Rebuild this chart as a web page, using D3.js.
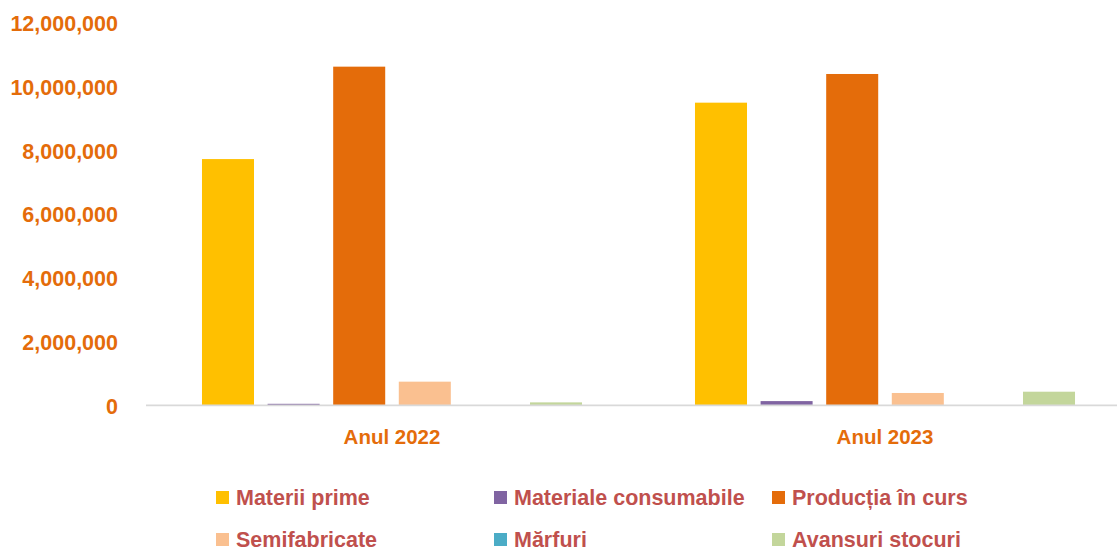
<!DOCTYPE html>
<html>
<head>
<meta charset="utf-8">
<script src="https://cdn.jsdelivr.net/npm/d3@7"></script>
<style>
  body { margin: 0; background: #fff; }
  svg { display: block; }
</style>
</head>
<body>
<svg id="chart" width="1117" height="548"></svg>
<script>
// data
var categories = ["Anul 2022", "Anul 2023"];
var series = ["Materii prime", "Materiale consumabile", "Producția în curs",
              "Semifabricate", "Mărfuri", "Avansuri stocuri"];
var values2022 = [7730000, 50000, 10630000, 745000, 0, 95000];
var values2023 = [9500000, 135000, 10400000, 390000, 0, 430000];
var yTicks = [0, 2000000, 4000000, 6000000, 8000000, 10000000, 12000000];
var colors = ["#FFC000", "#8064A2", "#E46C0A", "#FAC090", "#4BACC6", "#C3D69B"];

var allValues = [values2022, values2023];

var svg = d3.select("#chart");

var y = d3.scaleLinear().domain([0, 12000000]).range([405.4, 23]);

var x0 = d3.scaleBand().domain(categories).range([145.5, 1131.5]);
var x1 = d3.scaleBand().domain(series).range([0, x0.bandwidth()])
    .paddingInner(0.207).paddingOuter(0.861);

// y axis labels
var yAxis = d3.axisLeft(y).tickValues(yTicks).tickSize(0).tickPadding(0)
    .tickFormat(d3.format(","));
var gy = svg.append("g")
    .attr("transform", "translate(118,0)")
    .call(yAxis);
gy.select(".domain").remove();
gy.selectAll("text")
    .attr("fill", "#E46C0A")
    .attr("font-family", "Liberation Sans, Arial, sans-serif")
    .attr("font-weight", "bold")
    .attr("font-size", 21.5)
    .attr("dy", "0.36em");

// bars
var groups = svg.append("g").selectAll("g")
    .data(categories)
    .enter().append("g")
    .attr("transform", function(d) { return "translate(" + x0(d) + ",0)"; });

groups.selectAll("rect")
    .data(function(d, i) {
        return series.map(function(s, j) { return { key: s, value: allValues[i][j], color: colors[j] }; });
    })
    .enter().append("rect")
    .attr("x", function(d) { return x1(d.key); })
    .attr("width", x1.bandwidth())
    .attr("y", function(d) { return y(d.value); })
    .attr("height", function(d) { return y(0) - y(d.value); })
    .attr("fill", function(d) { return d.color; });

// baseline
svg.append("line")
    .attr("x1", 146).attr("x2", 1117)
    .attr("y1", y(0)).attr("y2", y(0))
    .attr("stroke", "#D9D9D9")
    .attr("stroke-width", 1.8);

// category labels
var xAxis = d3.axisBottom(x0).tickSize(0).tickPadding(0);
var gx = svg.append("g")
    .attr("transform", "translate(0,444)")
    .call(xAxis);
gx.select(".domain").remove();
gx.selectAll("text")
    .attr("fill", "#E46C0A")
    .attr("font-family", "Liberation Sans, Arial, sans-serif")
    .attr("font-weight", "bold")
    .attr("font-size", 20.5)
    .attr("dy", 0);

// legend
var legendCols = [216, 494, 772];
var legendRows = [491, 533];
var legend = svg.append("g").selectAll("g")
    .data(series)
    .enter().append("g")
    .attr("transform", function(d, i) {
        return "translate(" + legendCols[i % 3] + "," + legendRows[Math.floor(i / 3)] + ")";
    });
legend.append("rect")
    .attr("width", 13).attr("height", 13)
    .attr("fill", function(d, i) { return colors[i]; });
legend.append("text")
    .attr("x", 20).attr("y", 13.5)
    .attr("fill", "#C0504D")
    .attr("font-family", "Liberation Sans, Arial, sans-serif")
    .attr("font-weight", "bold")
    .attr("font-size", 21.5)
    .text(function(d) { return d; });
</script>
</body>
</html>
